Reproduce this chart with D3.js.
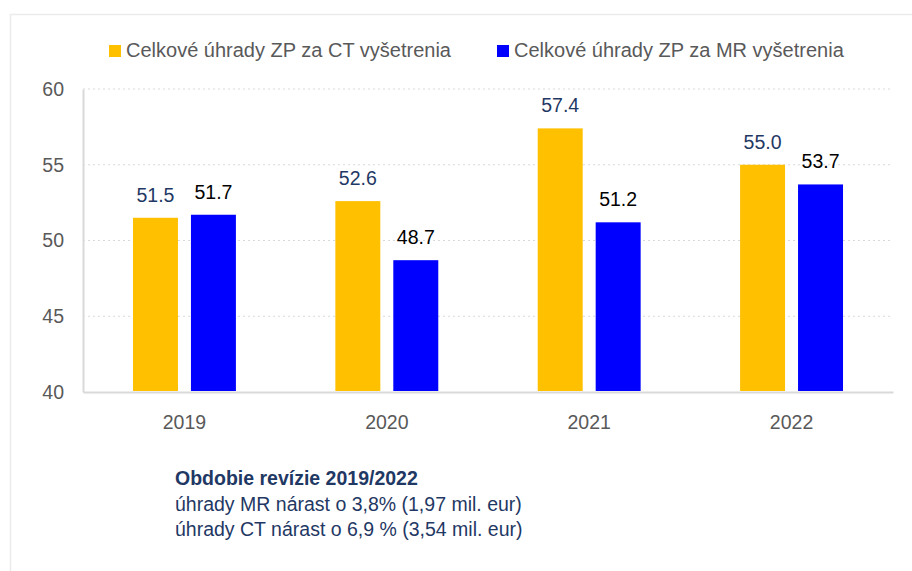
<!DOCTYPE html>
<html>
<head>
<meta charset="utf-8">
<script src="https://cdn.jsdelivr.net/npm/d3@7"></script>
<style>
  body { margin: 0; background: #fff; }
  text { font-family: "Liberation Sans", Arial, sans-serif; }
</style>
</head>
<body>
<script>
var years = ["2019", "2020", "2021", "2022"];
var seriesNames = ["Celkové úhrady ZP za CT vyšetrenia", "Celkové úhrady ZP za MR vyšetrenia"];
var ctValues = [51.5, 52.6, 57.4, 55.0];
var mrValues = [51.7, 48.7, 51.2, 53.7];
var yTicks = [40, 45, 50, 55, 60];
var noteTitle = "Obdobie revízie 2019/2022";
var noteLines = ["úhrady MR nárast o 3,8% (1,97 mil. eur)", "úhrady CT nárast o 6,9 % (3,54 mil. eur)"];

var colors = ["#FFC000", "#0000FF"];
var labelColors = ["#1F3864", "#000000"];

var width = 912, height = 571;
var plotLeft = 83, plotRight = 893, plotTop = 89, plotBottom = 392;

var svg = d3.select("body").append("svg").attr("width", width).attr("height", height);

// faint frame
svg.append("path").attr("d", "M10.5," + height + "V14.5H" + width)
  .attr("fill", "none").attr("stroke", "#ebebeb").attr("stroke-width", 1.5);

var x0 = d3.scaleBand().domain(years).range([plotLeft, plotRight]).paddingInner(0.4914).paddingOuter(0.247);
var x1 = d3.scaleBand().domain([0, 1]).range([0, x0.bandwidth()]).paddingInner(0.224);
var y = d3.scaleLinear().domain([40, 60]).range([plotBottom, plotTop]);

// gridlines
svg.append("g").selectAll("line")
  .data(yTicks.filter(function(d){ return d > 40; }))
  .enter().append("line")
  .attr("x1", plotLeft).attr("x2", plotRight)
  .attr("y1", function(d){ return y(d); }).attr("y2", function(d){ return y(d); })
  .attr("stroke", "#d9d9d9").attr("stroke-width", 1.2).attr("stroke-dasharray", "2,3");

// y axis
var yAxis = d3.axisLeft(y).tickValues(yTicks).tickSize(0).tickPadding(19);
var yAxisGroup = svg.append("g").attr("transform", "translate(" + plotLeft + ",0)").call(yAxis);
yAxisGroup.select(".domain").attr("stroke", "#d9d9d9").attr("stroke-width", 2);
yAxisGroup.selectAll("text").attr("font-size", "19.5px").attr("fill", "#595959")
  .attr("font-family", "'Liberation Sans', Arial, sans-serif");

// x axis
var xAxis = d3.axisBottom(x0).tickSize(0).tickPadding(23);
var xAxisGroup = svg.append("g").attr("transform", "translate(0," + plotBottom + ")").call(xAxis);
xAxisGroup.select(".domain").attr("stroke", "#d9d9d9").attr("stroke-width", 2);
xAxisGroup.selectAll("text").attr("font-size", "19.5px").attr("fill", "#595959")
  .attr("font-family", "'Liberation Sans', Arial, sans-serif");

var rows = years.map(function(yr, i){ return { year: yr, vals: [ctValues[i], mrValues[i]] }; });

var groups = svg.append("g").selectAll("g")
  .data(rows).enter().append("g")
  .attr("transform", function(d){ return "translate(" + x0(d.year) + ",0)"; });

groups.selectAll("rect")
  .data(function(d){ return d.vals.map(function(v, k){ return { k: k, v: v }; }); })
  .enter().append("rect")
  .attr("x", function(d){ return x1(d.k); })
  .attr("width", x1.bandwidth())
  .attr("y", function(d){ return y(d.v); })
  .attr("height", function(d){ return plotBottom - 1 - y(d.v); })
  .attr("fill", function(d){ return colors[d.k]; });

groups.selectAll("text.val")
  .data(function(d){ return d.vals.map(function(v, k){ return { k: k, v: v }; }); })
  .enter().append("text").attr("class", "val")
  .attr("x", function(d){ return x1(d.k) + x1.bandwidth() / 2; })
  .attr("y", function(d){ return y(d.v) - 16; })
  .attr("text-anchor", "middle")
  .attr("font-size", "19.5px")
  .attr("fill", function(d){ return labelColors[d.k]; })
  .text(function(d){ return d.v.toFixed(1); });

// legend
var legendX = [109, 497];
var legend = svg.append("g").selectAll("g")
  .data(seriesNames).enter().append("g")
  .attr("transform", function(d, i){ return "translate(" + legendX[i] + ",45)"; });
legend.append("rect").attr("width", 12).attr("height", 12)
  .attr("fill", function(d, i){ return colors[i]; });
legend.append("text").attr("x", 17).attr("y", 12.3)
  .attr("font-size", "20px").attr("fill", "#595959")
  .text(function(d){ return d; });

// note
svg.append("text").attr("x", 175).attr("y", 485)
  .attr("font-size", "19.5px").attr("font-weight", "bold").attr("fill", "#1F3864")
  .text(noteTitle);
svg.append("g").selectAll("text")
  .data(noteLines).enter().append("text")
  .attr("x", 175).attr("y", function(d, i){ return 510.5 + i * 25.5; })
  .attr("font-size", "19.5px").attr("fill", "#1F3864")
  .text(function(d){ return d; });
</script>
</body>
</html>
